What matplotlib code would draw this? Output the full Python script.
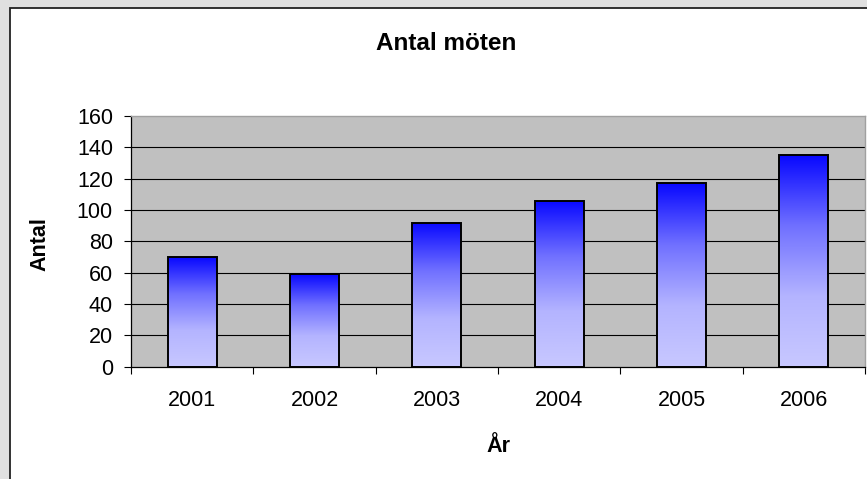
import numpy as np
import matplotlib
matplotlib.use("Agg")
import matplotlib.pyplot as plt
from matplotlib.colors import LinearSegmentedColormap
from matplotlib.patches import Rectangle

plt.rcParams['font.family'] = ['Liberation Sans', 'DejaVu Sans']

# data
years = ['2001', '2002', '2003', '2004', '2005', '2006']
antal = [70, 59, 92, 106, 117, 135]
y_ticks = [0, 20, 40, 60, 80, 100, 120, 140, 160]

W, H = 867, 479
fig = plt.figure(figsize=(W / 100, H / 100), dpi=100)
fig.patch.set_facecolor('#e0e0e0')

# vit diagramyta (fortsätter utanför bilden till höger och nedåt)
fig.add_artist(Rectangle((10 / W, -0.05), 1.1, 1 - 8 / H + 0.05,
                         transform=fig.transFigure, facecolor='white',
                         edgecolor='#222222', linewidth=1.3, zorder=0))

ax = fig.add_axes([131 / W, 1 - 366.7 / H, (865 - 131) / W, (366.7 - 116) / H])
ax.set_facecolor('#c0c0c0')
ax.set_zorder(1)

x = np.arange(len(years))

# rutnät
for v in y_ticks[1:-1]:
    ax.axhline(v, color='black', linewidth=0.8, zorder=1)

# staplar med gradient
cmap = LinearSegmentedColormap.from_list('grad', ['#c8c8ff', '#b4b4ff', '#7070ff', '#0808ff'])
grad = np.linspace(0, 1, 256).reshape(-1, 1)
bars = ax.bar(x, antal, width=0.4, facecolor='none', edgecolor='black',
              linewidth=1.4, zorder=3)
for b in bars:
    x0, w, h = b.get_x(), b.get_width(), b.get_height()
    im = ax.imshow(grad, cmap=cmap, origin='lower', aspect='auto',
                   extent=[x0, x0 + w, 0, h], zorder=2, interpolation='bilinear')
    im.set_clip_path(b)
ax.set_xlim(-0.5, len(years) - 0.5)
ax.set_ylim(0, 160)

# axlar
for s in ['top', 'right']:
    ax.spines[s].set_color('#a0a0a0')
    ax.spines[s].set_linewidth(1.0)
for s in ['left', 'bottom']:
    ax.spines[s].set_color('black')
    ax.spines[s].set_linewidth(0.9)

ax.set_yticks(y_ticks)
ax.tick_params(axis='y', direction='out', length=5, width=0.8, pad=8,
               labelsize=15.5, colors='black')
ax.set_xticks(np.arange(-0.5, len(years), 1.0))
ax.set_xticklabels([])
ax.set_xticks(x, minor=True)
ax.set_xticklabels(years, minor=True)
ax.tick_params(axis='x', which='major', direction='out', length=5, width=0.8)
ax.tick_params(axis='x', which='minor', length=0, pad=17, labelsize=15.5)

ax.set_ylabel('Antal', fontsize=15.5, fontweight='bold')
ax.yaxis.set_label_coords(-0.110, 0.49)
ax.set_xlabel('År', fontsize=15.5, fontweight='bold')
ax.xaxis.set_label_coords(0.5, -0.278)

fig.text(446 / W, 1 - 43 / H, 'Antal möten', ha='center', va='center',
         fontsize=17.5, fontweight='bold')

fig.savefig('out.png', dpi=100, facecolor=fig.get_facecolor())
